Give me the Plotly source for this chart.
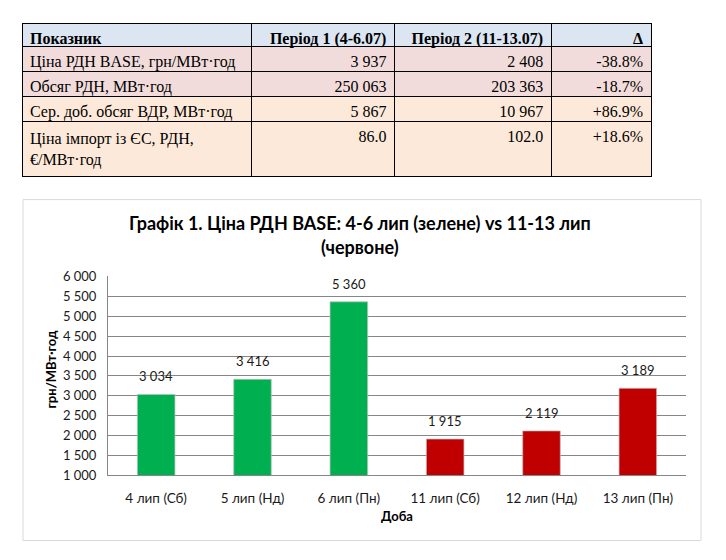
import plotly.graph_objects as go

# table data
indicators = [
    "Ціна РДН BASE, грн/МВт·год",
    "Обсяг РДН, МВт·год",
    "Сер. доб. обсяг ВДР, МВт·год",
    "Ціна імпорт із ЄС, РДН,<br>€/МВт·год",
]
period1 = [3937, 250063, 5867, 86.0]
period2 = [2408, 203363, 10967, 102.0]
delta = ["-38.8%", "-18.7%", "+86.9%", "+18.6%"]
table_header = ["Показник", "Період 1 (4-6.07)", "Період 2 (11-13.07)", "Δ"]

# chart data
days = ["4 лип (Сб)", "5 лип (Нд)", "6 лип (Пн)", "11 лип (Сб)", "12 лип (Нд)", "13 лип (Пн)"]
prices = [3034, 3416, 5360, 1915, 2119, 3189]
period_of_day = [1, 1, 1, 2, 2, 2]
title_lines = ["Графік 1. Ціна РДН BASE: 4-6 лип (зелене) vs 11-13 лип", "(червоне)"]

W, H = 726, 560
OFF = 8  # page body margin pushes the figure 8px right/down
GREEN = "#00b050"
RED = "#c00000"
SERIF = "Liberation Serif, Times New Roman, serif"
SANS = "Lato, Open Sans, sans-serif"


def fmt(v):
    if isinstance(v, float):
        return f"{v:.1f}"
    return f"{v:,}".replace(",", " ")


def px_x(x):
    return (x - OFF) / W


def px_y(y):
    return 1 - (y - OFF) / H


row_fill = ["#f2dcdb", "#f2dcdb", "#fde9d9", "#fde9d9"]

fig = go.Figure()

fig.add_trace(go.Table(
    domain=dict(x=[px_x(22), px_x(651)], y=[px_y(195), px_y(16)]),
    columnwidth=[230, 143, 157, 100],
    header=dict(
        values=table_header,
        align=["left", "right", "right", "right"],
        fill_color="#dce6f2",
        line=dict(color="black", width=1),
        font=dict(family=SERIF, size=16, color="black", weight="bold"),
        height=23,
    ),
    cells=dict(
        values=[indicators, [fmt(v) for v in period1], [fmt(v) for v in period2], delta],
        align=["left", "right", "right", "right"],
        fill_color=[row_fill] * 4,
        line=dict(color="black", width=1),
        font=dict(family=SERIF, size=16, color="black"),
        height=25,
    ),
))

fig.add_trace(go.Bar(
    x=days,
    y=prices,
    marker=dict(
        color=[GREEN if p == 1 else RED for p in period_of_day],
        line=dict(color="rgba(190,190,190,0.7)", width=1),
    ),
    width=0.39,
    hoverinfo="x+y",
))

for d, v in zip(days, prices):
    fig.add_annotation(
        x=d, y=v, xref="x", yref="y",
        text=fmt(v), showarrow=False,
        yanchor="bottom", yshift=8,
        font=dict(family=SANS, size=13, color="#1a1a1a"),
    )

# axis titles
fig.add_annotation(
    x=px_x(51), y=px_y(372), xref="paper", yref="paper",
    xanchor="center", yanchor="middle",
    text="<b>грн/МВт·год</b>", textangle=-90, showarrow=False,
    font=dict(family=SANS, size=13, color="black"),
)
fig.add_annotation(
    x=px_x(397), y=px_y(523), xref="paper", yref="paper",
    xanchor="center", yanchor="middle",
    text="<b>Доба</b>", showarrow=False,
    font=dict(family=SANS, size=13, color="black"),
)

# chart title, two lines placed apart like the reference
for line, ypx in zip(title_lines, [221, 246]):
    fig.add_annotation(
        x=px_x(360), y=px_y(ypx), xref="paper", yref="paper",
        xanchor="center", yanchor="middle",
        text=f"<b>{line}</b>", showarrow=False,
        font=dict(family=SANS, size=18, color="black"),
    )

# chart frame
fig.add_shape(
    type="rect", xref="paper", yref="paper",
    x0=px_x(23), x1=px_x(701), y0=px_y(548), y1=px_y(197),
    line=dict(color="#d9d9d9", width=1), layer="below",
)

fig.update_layout(
    width=W, height=H,
    margin=dict(l=0, r=0, t=0, b=0),
    autosize=False,
    paper_bgcolor="white",
    plot_bgcolor="white",
    showlegend=False,
    separators=". ",
    xaxis=dict(
        domain=[px_x(108), px_x(686)],
        showline=True, linecolor="#868686", linewidth=1,
        showgrid=False, ticks="", ticklabelstandoff=10,
        tickfont=dict(family=SANS, size=13.5, color="#1a1a1a"),
        fixedrange=True,
    ),
    yaxis=dict(
        domain=[px_y(481), px_y(276)],
        range=[1000, 6000], dtick=500, tickformat=",d",
        showline=True, linecolor="#868686", linewidth=1,
        showgrid=True, gridcolor="#868686", gridwidth=1,
        ticks="", ticklabelstandoff=8,
        tickfont=dict(family=SANS, size=13, color="#1a1a1a"),
        zeroline=False, fixedrange=True,
    ),
)

fig.write_html("out.html")
